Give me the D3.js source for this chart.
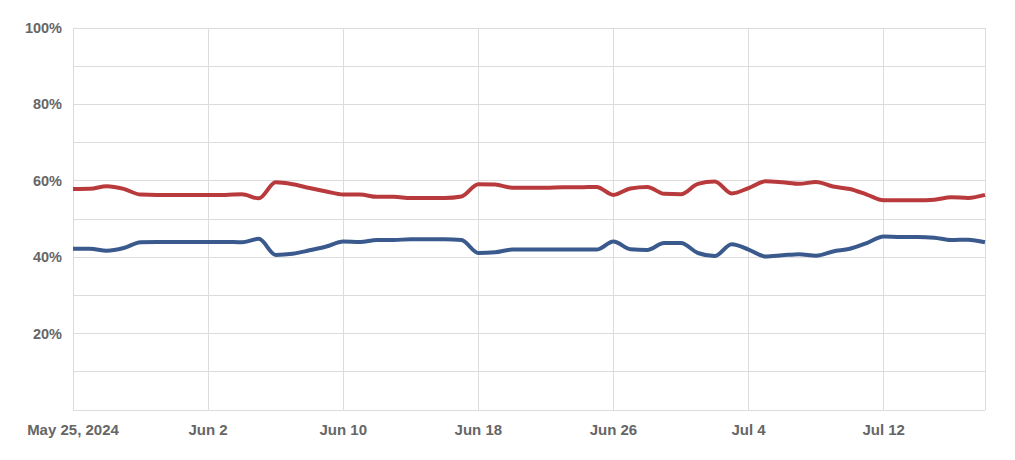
<!DOCTYPE html>
<html><head><meta charset="utf-8">
<script src="https://cdn.jsdelivr.net/npm/d3@7"></script>
<style>body{margin:0;background:#fff;}svg{display:block;font-family:"Liberation Sans",Arial,sans-serif;}</style>
</head><body><svg id="c" width="1015" height="460"></svg>
<script>
const startDate = "2024-05-25";
const redValues = [57.85,57.9,58.6,57.9,56.4,56.3,56.3,56.3,56.3,56.3,56.5,55.4,59.6,59.1,58.1,57.2,56.4,56.4,55.8,55.8,55.5,55.5,55.5,55.9,59.1,59.0,58.2,58.2,58.2,58.3,58.3,58.4,56.3,58.0,58.4,56.6,56.5,59.2,59.8,56.7,58.1,59.85,59.6,59.2,59.7,58.5,57.85,56.4,54.9,54.9,54.9,55.05,55.7,55.5,56.3];
const blueValues = [42.2,42.2,41.7,42.4,43.9,44.0,44.0,44.0,44.0,44.0,43.9,44.8,40.6,40.9,41.8,42.8,44.1,44.0,44.5,44.5,44.7,44.7,44.7,44.5,41.1,41.3,42.0,42.0,42.0,42.0,42.0,42.0,44.1,42.1,41.9,43.7,43.7,41.1,40.3,43.4,42.0,40.2,40.5,40.8,40.4,41.5,42.2,43.7,45.4,45.3,45.3,45.1,44.5,44.6,43.9];
const yTicks = [0,10,20,30,40,50,60,70,80,90,100];
const yLabels = [20,40,60,80,100];
const xTickDates = ["2024-05-25","2024-06-02","2024-06-10","2024-06-18","2024-06-26","2024-07-04","2024-07-12"];
const xTickLabels = ["May 25, 2024","Jun 2","Jun 10","Jun 18","Jun 26","Jul 4","Jul 12"];
const endDate = "2024-07-18";

const parse = d3.utcParse("%Y-%m-%d");
const t0 = parse(startDate);
const dates = redValues.map((_, i) => d3.utcDay.offset(t0, i));

const svg = d3.select("#c");
const L = 73, R = 985, T = 28, B = 410;
const x = d3.scaleUtc().domain([t0, parse(endDate)]).range([L, R]);
const y = d3.scaleLinear().domain([0, 100]).range([B, T]);
const grid = "#dcdcdc";

svg.append("g").selectAll("line").data(yTicks).join("line")
  .attr("x1", L).attr("x2", R).attr("y1", d => y(d)).attr("y2", d => y(d))
  .attr("stroke", grid).attr("stroke-width", 1).attr("shape-rendering", "crispEdges");
svg.append("g").selectAll("line").data(xTickDates.map(parse).concat([parse(endDate)])).join("line")
  .attr("x1", d => x(d)).attr("x2", d => x(d)).attr("y1", T).attr("y2", B)
  .attr("stroke", grid).attr("stroke-width", 1).attr("shape-rendering", "crispEdges");

svg.append("g").selectAll("text").data(yLabels).join("text")
  .attr("x", 62).attr("y", d => y(d)).attr("dy", "0.35em").attr("text-anchor", "end")
  .attr("font-size", 14.5).attr("font-weight", "bold").attr("fill", "#666").text(d => d + "%");
svg.append("g").selectAll("text").data(xTickDates).join("text")
  .attr("x", d => x(parse(d))).attr("y", 430).attr("dy", "0.35em").attr("text-anchor", "middle")
  .attr("font-size", 15).attr("font-weight", "bold").attr("fill", "#666").text((d, i) => xTickLabels[i]);

const line = d3.line().x((d, i) => x(dates[i])).y(d => y(d)).curve(d3.curveMonotoneX);
svg.append("path").datum(redValues).attr("d", line).attr("fill", "none")
  .attr("stroke", "#b93a3c").attr("stroke-width", 4).attr("stroke-linejoin", "round");
svg.append("path").datum(blueValues).attr("d", line).attr("fill", "none")
  .attr("stroke", "#3a5a8d").attr("stroke-width", 4).attr("stroke-linejoin", "round");
</script></body></html>
